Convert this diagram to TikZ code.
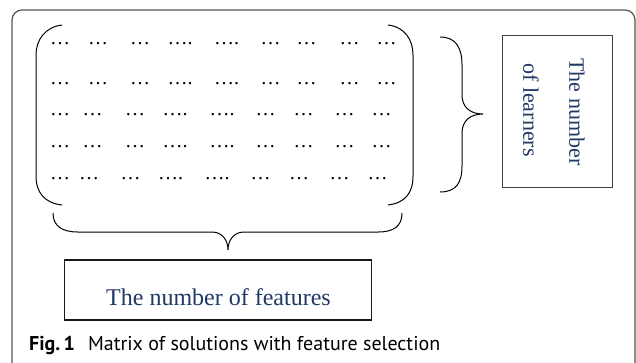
\documentclass[tikz,border=0pt]{standalone}
\usepackage{fontspec}
\setmainfont{Liberation Serif}
\newfontfamily\capfont{PT Sans}
\definecolor{txtblue}{HTML}{1F3864}
\definecolor{framegray}{HTML}{555555}
\begin{document}
\begin{tikzpicture}[x=1pt,y=-1pt,
  dotstyle/.style={font=\fontsize{20}{22}\selectfont, inner sep=0pt, anchor=base},
  curve/.style={draw=black, line width=1pt},
  boxstyle/.style={draw, inner sep=0pt},
  bluetext/.style={text=txtblue, inner sep=0pt}]
\useasboundingbox (0,0) rectangle (636,362);
\begin{scope}
\clip (0,0) rectangle (636,362);
\draw[framegray, line width=1.2pt, rounded corners=10pt] (12,10) rectangle (635,375);
\end{scope}
% matrix parentheses
\draw[curve] (62,25) .. controls (45,27) and (36,40) .. (36,55) -- (36,176) .. controls (36,193) and (45,203) .. (62,205);
\draw[curve] (388,25) .. controls (405,27) and (413,40) .. (413,55) -- (413,176) .. controls (413,193) and (405,203) .. (388,205);
% dots rows
\foreach \x/\t [count=\i] in {60/…,98/…,140/…,180/….,226.5/….,270.5/…,306.5/…,349.5/…,386.5/…}{
  \node[dotstyle] (ra\i) at (\x,44) {\t};
  \node[dotstyle] (rb\i) at (\x,84) {\t};
}
\foreach \x/\t [count=\i] in {60/…,92.5/…,135/…,175/….,222/….,265.5/…,303.5/…,344.5/…,381.5/…}{
  \node[dotstyle] (rc\i) at (\x,115) {\t};
  \node[dotstyle] (rd\i) at (\x,147) {\t};
}
\foreach \x/\t [count=\i] in {60/…,89/…,130.5/…,170.5/….,217/….,260.5/…,299/…,339.5/…,377.5/…}{
  \node[dotstyle] (re\i) at (\x,179) {\t};
}
% right brace
\draw[curve] (440,37) .. controls (456,37) and (462,48) .. (462,65) -- (462,95) .. controls (462,107) and (470,114) .. (483,114) .. controls (470,114) and (462,121) .. (462,133) -- (462,166) .. controls (462,183) and (456,192) .. (440,192);
% bottom brace
\draw[curve] (53,213) .. controls (53,226) and (62,232) .. (78,232) -- (212,232) .. controls (222,232) and (228,240) .. (228,250) .. controls (228,240) and (234,232) .. (244,232) -- (378,232) .. controls (394,232) and (402,226) .. (402,213);
% learners box
\node[boxstyle, draw=black!75, line width=1pt, minimum width=110pt, minimum height=152pt] (learn) at (557,111) {};
\node[bluetext, rotate=-90, font=\fontsize{22}{24}\selectfont] (l1) at (577,112) {The number};
\node[bluetext, rotate=-90, font=\fontsize{22}{24}\selectfont] (l2) at (531,110) {of learners};
% features box
\node[boxstyle, draw=black!90, line width=1.6pt, minimum width=307pt, minimum height=60pt] (feat) at (218,290) {};
\node[bluetext, font=\fontsize{24}{26}\selectfont, anchor=base] (ftext) at (218.5,305) {The number of features};
% caption
\node[inner sep=0pt, anchor=base west, font=\capfont\fontsize{20}{22}\selectfont] (cap) at (29,350) {\textbf{Fig.\,1}\hspace{13pt}Matrix of solutions with feature selection};
\end{tikzpicture}
\end{document}
